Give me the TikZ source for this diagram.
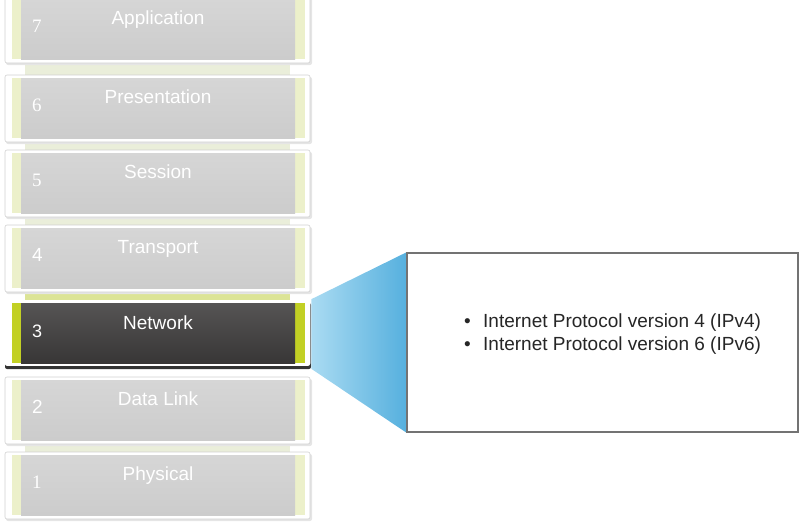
\documentclass[tikz,border=0pt]{standalone}
\usepackage{fontspec}
\setmainfont{Liberation Sans}
\newfontfamily\numserif{Liberation Serif}
\newfontfamily\numsans{Liberation Sans}
\usetikzlibrary{positioning}

\definecolor{laygray}{RGB}{204,204,204}
\definecolor{laygraytop}{RGB}{214,214,214}
\definecolor{palegreen}{RGB}{236,240,202}
\definecolor{gapgreen}{RGB}{234,238,218}
\definecolor{limegreen}{RGB}{194,208,36}
\definecolor{limegap}{RGB}{220,228,150}
\definecolor{darklay}{RGB}{56,54,54}
\definecolor{wedgelight}{RGB}{170,219,242}
\definecolor{wedgedark}{RGB}{86,176,222}
\definecolor{txtgray}{RGB}{38,38,38}

\tikzset{
  card/.style={fill=white, draw=black!18, line width=0.6pt, rounded corners=2pt,
    minimum width=305pt, minimum height=67pt, inner sep=0pt},
  layerbox/.style={minimum width=274pt, minimum height=60pt, inner sep=0pt},
  layername/.style={text=white, font=\fontsize{19}{22}\selectfont, anchor=base},
  layernum/.style={text=white, anchor=base west, inner sep=0pt},
  infobox/.style={fill=white, draw=black!55, line width=1.3pt,
    minimum width=391pt, minimum height=179pt, inner sep=0pt},
  infotext/.style={text=txtgray, font=\fontsize{19}{22}\selectfont, anchor=base west, inner sep=0pt}
}

\begin{document}
\begin{tikzpicture}[x=1pt,y=-1pt]
  \useasboundingbox (0,0) rectangle (806,522);

  % strips between the cards
  \foreach \t in {0,78,153,380}
    \fill[gapgreen] (25,\t+60) rectangle (290,\t+80);
  \fill[gapgreen] (25,288) rectangle (290,292);
  \fill[limegap] (25,292) rectangle (290,302);

  % plain layers
  \foreach \n/\t/\name/\nf in {7/-1/Application/\numserif, 6/78/Presentation/\numserif,
      5/153/Session/\numserif, 4/228/Transport/\numsans,
      2/380/Data Link/\numsans, 1/455/Physical/\numserif}{
    \fill[black!10, rounded corners=2pt] (6,\t-1) rectangle (312,\t+66);
    \node[card] (C\n) at (157.5,\t+30.5) {};
    \fill[palegreen] (12,\t) rectangle (21,\t+60);
    \fill[palegreen] (295,\t) rectangle (305,\t+60);
    \node[layerbox, top color=laygraytop, bottom color=laygray] (L\n) at (158,\t+30) {};
    \node[layername] (T\n) at (158,\t+25) {\name};
    \node[layernum, font=\nf\fontsize{19}{21}\selectfont] (N\n) at (32,\t+33) {\n};
  }

  % highlighted layer
  \fill[black!80, rounded corners=2pt] (5,303) rectangle (311,369);
  \node[card, draw=white, minimum height=65pt] (C3) at (157.5,333) {};
  \fill[limegreen] (12,303) rectangle (21,363);
  \fill[limegreen] (295,303) rectangle (305,363);
  \node[layerbox, top color=darklay!85, bottom color=darklay] (L3) at (158,333) {};
  \node[layername] (T3) at (158,329) {Network};
  \node[layernum, font=\numsans\fontsize{18}{20}\selectfont] (N3) at (32,337) {3};

  % detail box and wedge
  \node[infobox] (info) at (602.5,342.5) {};
  \shade[left color=wedgelight, right color=wedgedark]
    ([xshift=1pt,yshift=1pt]C3.north east) -- (info.north west) -- (info.south west)
    -- ([xshift=1pt,yshift=-3pt]C3.south east) -- cycle;
  \node[infobox, fill=none] at (info) {};

  \node[infotext] (d1) at (464,327) {\textbullet};
  \node[infotext] (d2) at (464,350) {\textbullet};
  \node[infotext] (p4) at (483,327) {Internet Protocol version 4 (IPv4)};
  \node[infotext] (p6) at (483,350) {Internet Protocol version 6 (IPv6)};
\end{tikzpicture}
\end{document}
